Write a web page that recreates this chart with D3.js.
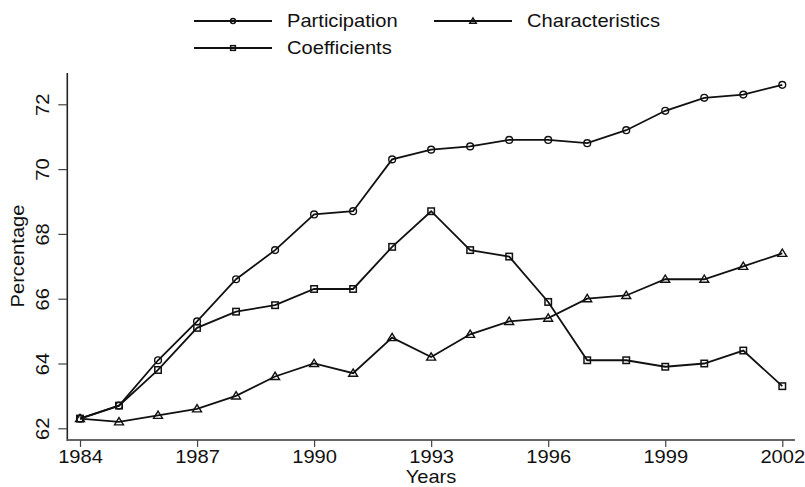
<!DOCTYPE html>
<html><head><meta charset="utf-8">
<script src="https://cdn.jsdelivr.net/npm/d3@7"></script>
<style>
body{margin:0;background:#fff;}
text{font-family:"Liberation Sans",Arial,Helvetica,sans-serif;fill:#111;}
</style></head>
<body><svg id="c" width="805" height="487"></svg>
<script>
const years = [1984,1985,1986,1987,1988,1989,1990,1991,1992,1993,1994,1995,1996,1997,1998,1999,2000,2001,2002];
const participation = [62.3,62.7,64.1,65.3,66.6,67.5,68.6,68.7,70.3,70.6,70.7,70.9,70.9,70.8,71.2,71.8,72.2,72.3,72.6];
const characteristics = [62.3,62.2,62.4,62.6,63.0,63.6,64.0,63.7,64.8,64.2,64.9,65.3,65.4,66.0,66.1,66.6,66.6,67.0,67.4];
const coefficients = [62.3,62.7,63.8,65.1,65.6,65.8,66.3,66.3,67.6,68.7,67.5,67.3,65.9,64.1,64.1,63.9,64.0,64.4,63.3];
const xTicks = [1984,1987,1990,1993,1996,1999,2002];
const yTicks = [62,64,66,68,70,72];
const seriesNames = ["Participation","Characteristics","Coefficients"];

const svg = d3.select("#c");
const plot = {left:67.3, right:795, top:73, bottom:440};
const fs = 17.5, sx = 1.15;

const x = d3.scaleLinear().domain([1984,2002]).range([80,782.3]);
const y = d3.scaleLinear().domain([62,72]).range([428.3,104.3]);

// axes lines
svg.append("line").attr("x1",plot.left).attr("x2",plot.left).attr("y1",plot.top).attr("y2",plot.bottom+1)
  .attr("stroke","#222").attr("stroke-width",1.6);
svg.append("line").attr("x1",plot.left).attr("x2",plot.right).attr("y1",plot.bottom).attr("y2",plot.bottom)
  .attr("stroke","#666").attr("stroke-width",2);

// x axis ticks
const gx = svg.append("g").attr("transform",`translate(0,${plot.bottom})`)
  .call(d3.axisBottom(x).tickValues(xTicks).tickFormat(d3.format("d")).tickSize(7).tickSizeOuter(0));
gx.select(".domain").remove();
gx.selectAll(".tick line").attr("stroke","#444").attr("stroke-width",1.2);
gx.selectAll(".tick text").attr("font-size",fs).attr("fill","#111").attr("y",0).attr("dy",0)
  .attr("transform",`translate(0,23) scale(${sx},1)`).attr("font-family",null);

// y axis ticks
const gy = svg.append("g").attr("transform",`translate(${plot.left},0)`)
  .call(d3.axisLeft(y).tickValues(yTicks).tickFormat(d3.format("d")).tickSize(9).tickSizeOuter(0));
gy.select(".domain").remove();
gy.selectAll(".tick line").attr("stroke","#444").attr("stroke-width",1.2);
gy.selectAll(".tick text").attr("font-size",fs).attr("fill","#111").attr("x",0).attr("dy",0)
  .attr("text-anchor","middle").attr("font-family",null)
  .attr("transform",`translate(-18,0) rotate(-90) scale(${sx},1)`);

// axis titles
svg.append("text").attr("transform",`translate(24,256) rotate(-90) scale(${sx},1)`)
  .attr("text-anchor","middle").attr("font-size",fs).text("Percentage");
svg.append("text").attr("transform",`translate(431,483) scale(${sx},1)`)
  .attr("text-anchor","middle").attr("font-size",fs).text("Years");

// series
const data = [participation, characteristics, coefficients];
const line = d3.line().x((d,i)=>x(years[i])).y(d=>y(d));
function marker(g, type, size){
  if(type===0){
    g.append("circle").attr("r",size).attr("fill","none").attr("stroke","#111").attr("stroke-width",1.4);
  } else if(type===1){
    const s=size*1.25;
    g.append("path").attr("d",`M0,${-s}L${s*1.05},${s*0.72}L${-s*1.05},${s*0.72}Z`).attr("fill","none").attr("stroke","#111").attr("stroke-width",1.4);
  } else {
    const s=size*0.95;
    g.append("rect").attr("x",-s).attr("y",-s).attr("width",2*s).attr("height",2*s).attr("fill","none").attr("stroke","#111").attr("stroke-width",1.5);
  }
}
data.forEach((vals,k)=>{
  svg.append("path").datum(vals).attr("d",line).attr("fill","none").attr("stroke","#111").attr("stroke-width",1.8);
  vals.forEach((v,i)=>{
    const g = svg.append("g").attr("transform",`translate(${x(years[i])},${y(v)})`);
    marker(g,k,3.4);
  });
});

// legend
const legPos = [{lx:194,ly:21},{lx:434,ly:21},{lx:194,ly:48}];
seriesNames.forEach((n,k)=>{
  const p = legPos[k];
  svg.append("line").attr("x1",p.lx).attr("x2",p.lx+78).attr("y1",p.ly).attr("y2",p.ly).attr("stroke","#111").attr("stroke-width",1.8);
  const g = svg.append("g").attr("transform",`translate(${p.lx+39},${p.ly})`);
  marker(g,k,2.5);
  svg.append("text").attr("transform",`translate(${p.lx+93},${p.ly+6}) scale(${sx},1)`).attr("font-size",fs).text(n);
});
</script></body></html>
